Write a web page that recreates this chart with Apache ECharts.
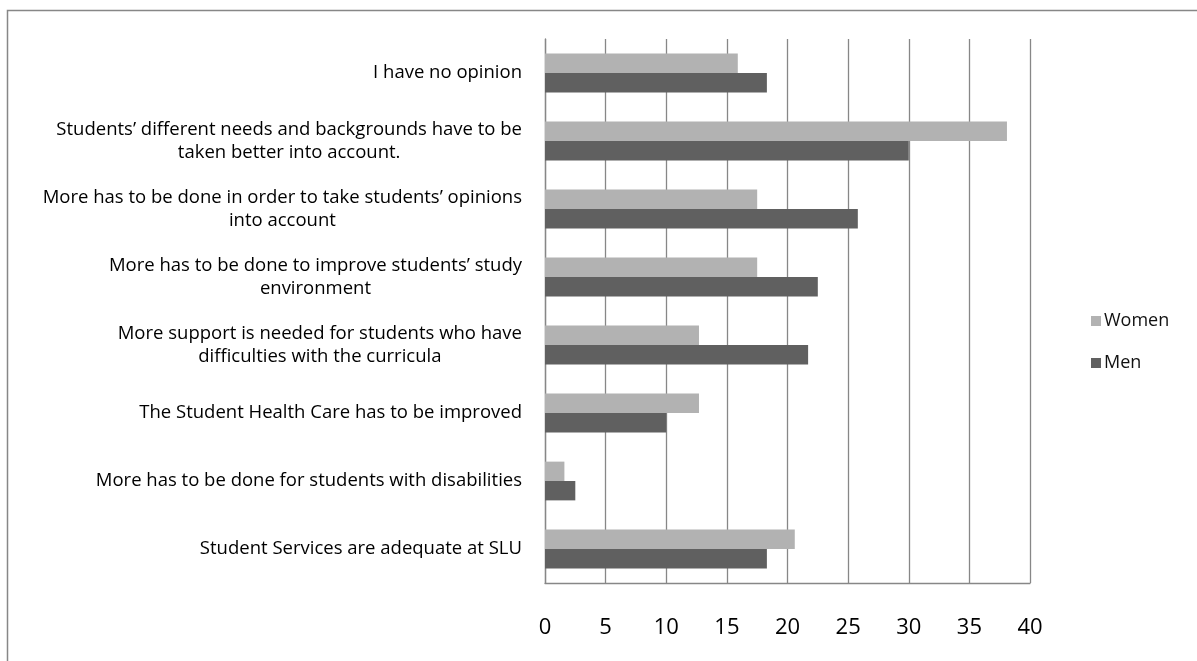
<!DOCTYPE html>
<html>
<head>
<meta charset="utf-8">
<script src="https://cdn.jsdelivr.net/npm/echarts@6/dist/echarts.min.js"></script>
<style>
  html, body { margin: 0; padding: 0; background: #fff; }
  #chart { width: 1197px; height: 661px; }
</style>
</head>
<body>
<div id="chart"></div>
<script>
// Survey statements, listed top to bottom
const categories = [
  'I have no opinion',
  'Students\u2019 different needs and backgrounds have to be\ntaken better into account.',
  'More has to be done in order to take students\u2019 opinions\ninto account',
  'More has to be done to improve students\u2019 study\nenvironment',
  'More support is needed for students who have\ndifficulties with the curricula',
  'The Student Health Care has to be improved',
  'More has to be done for students with disabilities',
  'Student Services are adequate at SLU'
];
// Share of respondents (%) per statement
const women = [15.9, 38.1, 17.5, 17.5, 12.7, 12.7, 1.6, 20.6];
const men   = [18.3, 30.0, 25.8, 22.5, 21.7, 10.0, 2.5, 18.3];
const xTicks = { min: 0, max: 40, interval: 5 };

const FONT = '"Open Sans", sans-serif';
const GRID_GRAY = '#878787';

const chart = echarts.init(document.getElementById('chart'), null, { renderer: 'canvas' });

chart.setOption({
  animation: false,
  backgroundColor: '#ffffff',
  textStyle: { fontFamily: FONT },
  graphic: [{
    type: 'rect',
    shape: { x: 7.5, y: 10.5, width: 1400, height: 900 },
    style: { fill: 'none', stroke: GRID_GRAY, lineWidth: 1.5 },
    silent: true
  }],
  legend: {
    orient: 'vertical',
    left: 1086,
    top: 307,
    itemWidth: 10,
    itemHeight: 10,
    itemGap: 24,
    icon: 'rect',
    textStyle: { fontFamily: FONT, fontSize: 18, color: '#111', padding: [0, 0, 0, -2] },
    data: ['Women', 'Men']
  },
  grid: { left: 545, right: 167, top: 39, bottom: 78, containLabel: false },
  xAxis: {
    type: 'value',
    min: xTicks.min,
    max: xTicks.max,
    interval: xTicks.interval,
    axisLine: { show: true, lineStyle: { color: GRID_GRAY, width: 1.3 } },
    axisTick: { show: false },
    splitLine: { show: true, lineStyle: { color: GRID_GRAY, width: 1.3 } },
    axisLabel: { fontFamily: FONT, fontSize: 22, color: '#000', margin: 34 }
  },
  yAxis: {
    type: 'category',
    inverse: true,
    data: categories,
    axisLine: { show: true, lineStyle: { color: GRID_GRAY, width: 1.3 } },
    axisTick: { show: false },
    axisLabel: {
      margin: 23,
      formatter: function (v) {
        return v.split('\n').map(function (l) { return '{c|' + l + '}'; }).join('\n');
      },
      rich: {
        c: { fontFamily: FONT, fontSize: 18.5, lineHeight: 23, color: '#000', align: 'center' }
      }
    }
  },
  series: [
    {
      name: 'Women',
      type: 'bar',
      data: women,
      barGap: '0%',
      barCategoryGap: '43%',
      itemStyle: { color: '#b2b2b2' }
    },
    {
      name: 'Men',
      type: 'bar',
      data: men,
      barGap: '0%',
      barCategoryGap: '43%',
      itemStyle: { color: '#606060' }
    }
  ]
});
</script>
</body>
</html>
